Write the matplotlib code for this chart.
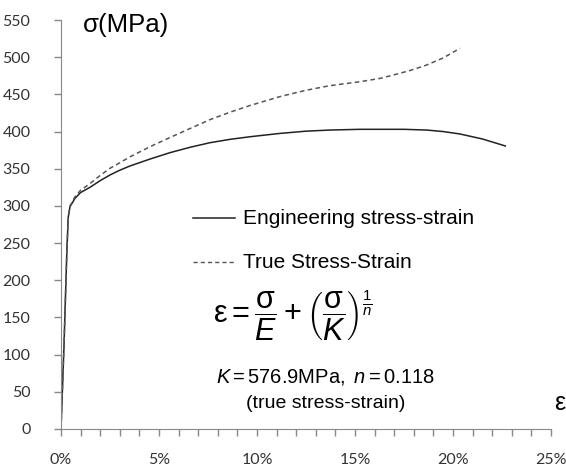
import matplotlib
matplotlib.use("Agg")
from matplotlib import pyplot as plt
from matplotlib.ticker import MultipleLocator, PercentFormatter

# engineering curve (strain %, stress MPa)
eng_strain = [0, 0.15, 0.30, 0.37, 0.46, 0.71, 1.0, 1.48, 2.0, 2.5, 3.0, 3.52,
              4.54, 5.56, 6.58, 7.6, 8.62, 9.64, 11.17, 12.5, 13.7, 15.25,
              16.3, 17.5, 18.66, 19.5, 20.36, 21.5, 22.67]
eng_stress = [0, 110, 240, 285, 299, 310, 318, 325, 334, 341.6, 348, 353.7,
              363, 371.6, 378.8, 385, 389.5, 393, 397.5, 400.5, 402, 403,
              403, 403, 402, 400, 396.7, 390, 380.6]

# true curve
true_strain = [0, 0.15, 0.30, 0.37, 0.46, 0.71, 1.0, 1.48, 2.0, 2.5, 3.0, 3.52,
               4.54, 5.56, 6.58, 7.6, 8.62, 9.64, 11.17, 12.5, 13.7, 15.25,
               16.3, 16.95, 17.8, 18.66, 19.5, 20.36]
true_stress = [0, 110, 240, 285, 300, 312, 321, 330, 341, 350.6, 358, 366,
               379.6, 392, 404, 416, 426, 435, 447, 455.5, 461.6, 467,
               471.6, 476, 482, 489.5, 499, 512]

plt.rcParams['mathtext.fontset'] = 'custom'
plt.rcParams['mathtext.rm'] = 'Liberation Sans'
plt.rcParams['mathtext.it'] = 'Liberation Sans:italic'

fig = plt.figure(figsize=(5.66, 4.68), dpi=100)
ax = fig.add_axes([61/566, 39/468, 490/566, 409/468])

ax.plot(eng_strain, eng_stress, color='#222222', lw=1.1)
ax.plot(true_strain, true_stress, color='#555555', lw=1.1, ls=(0, (3, 2.2)))

ax.set_xlim(0, 25)
ax.set_ylim(0, 550)
ax.xaxis.set_major_locator(MultipleLocator(5))
ax.xaxis.set_minor_locator(MultipleLocator(1))
ax.yaxis.set_major_locator(MultipleLocator(50))
ax.xaxis.set_major_formatter(PercentFormatter(decimals=0))

for s in ['top', 'right']:
    ax.spines[s].set_visible(False)
for s in ['left', 'bottom']:
    ax.spines[s].set_color('#888888')
ax.tick_params(axis='both', which='both', color='#888888', length=5, width=1,
               labelcolor='#333333')
ax.tick_params(axis='x', pad=12)
ax.tick_params(axis='y', pad=17)
for lab in ax.get_xticklabels() + ax.get_yticklabels():
    lab.set_fontfamily('Lato')
    lab.set_fontsize(11.5)

# axis labels
fig.text(83/566, 1 - 25/468, 'σ(MPa)', fontsize=18.5, family='Liberation Sans',
         va='center', ha='left')
fig.text(565/566, 1 - 403/468, 'ε', fontsize=18, family='Liberation Sans',
         va='center', ha='right')

# hand-made legend
fig.add_artist(plt.Line2D([193/566, 235/566], [1 - 218/468] * 2,
                          color='#222222', lw=1.1))
fig.add_artist(plt.Line2D([193/566, 235/566], [1 - 262/468] * 2,
                          color='#555555', lw=1.0, ls=(0, (3, 2.2))))
fig.text(243/566, 1 - 218/468, 'Engineering stress-strain', fontsize=15,
         family='Liberation Sans', va='center')
fig.text(243/566, 1 - 262/468, 'True Stress-Strain', fontsize=15,
         family='Liberation Sans', va='center')

# formula
fig.text(293/566, 1 - 316/468,
         r'$\mathrm{ε} = \dfrac{\mathrm{σ}}{E} + \left(\dfrac{\mathrm{σ}}{K}\right)^{\frac{1}{n}}$',
         fontsize=22, va='center', ha='center')
fig.text(325/566, 1 - 377/468, r'$K = 576.9\mathrm{MPa},\ n = 0.118$',
         fontsize=14.5, va='center', ha='center')
fig.text(326/566, 1 - 404/468, '(true stress-strain)', fontsize=14,
         family='Liberation Sans', va='center', ha='center')

fig.savefig('out.png', dpi=100)
